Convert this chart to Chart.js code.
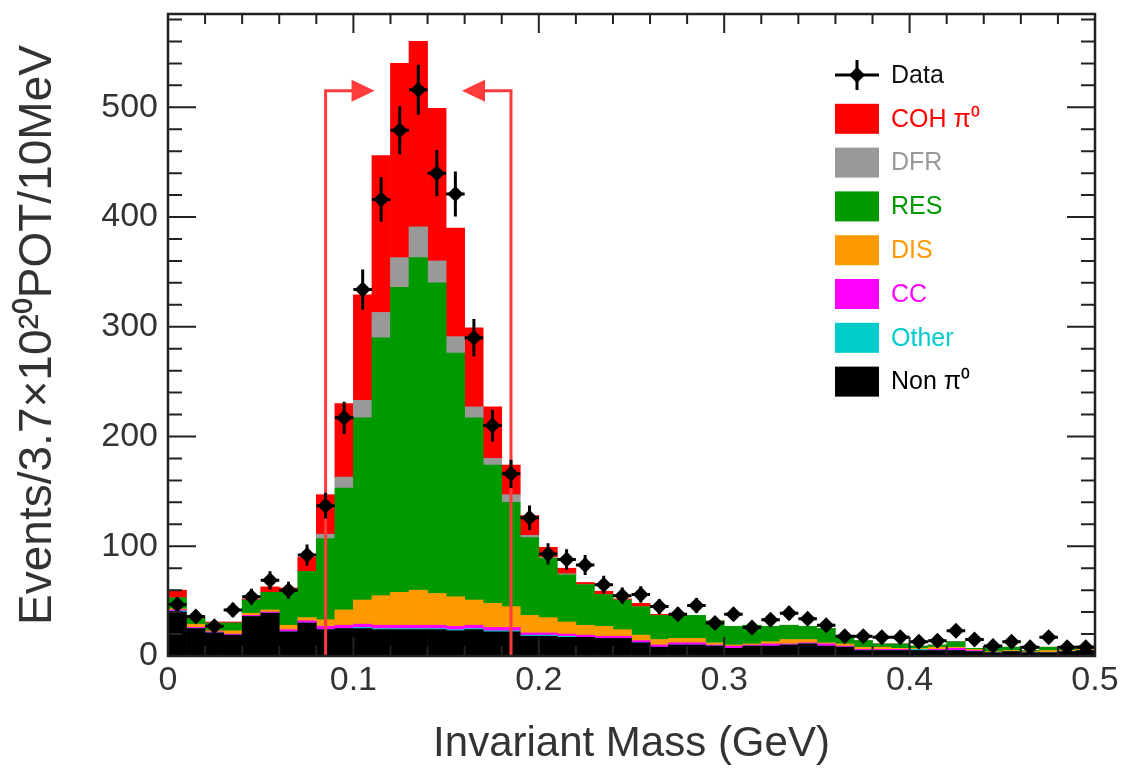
<!DOCTYPE html>
<html>
<head>
<meta charset="utf-8">
<script src="https://cdn.jsdelivr.net/npm/chart.js@4.4.1/dist/chart.umd.min.js"></script>
<style>
  html, body { margin: 0; padding: 0; background: #fff; }
</style>
</head>
<body>
<canvas id="chart" width="1127" height="772"></canvas>
<script>
// 10 MeV bins from 0 to 0.5 GeV
const binWidth = 0.01;
const binCenters = Array.from({ length: 50 }, (_, i) => +(0.005 + i * binWidth).toFixed(3));

const dataCounts = [47, 36, 27, 42, 54, 69, 60, 92, 137, 217,
  334, 416, 479, 516, 440, 421, 290, 210, 166, 126,
  93, 88, 83, 65, 55, 56, 45, 38, 46, 30,
  38, 26, 33, 39, 34, 28, 18, 18, 17, 17,
  13, 14, 23, 15, 9, 13, 8, 17, 8, 8];

const nonPi0 = [40, 25, 21, 19, 36, 39, 22, 30, 24, 25,
  25, 24, 24, 24, 24, 23, 24, 22, 22, 18,
  18, 17, 17, 16, 16, 12, 8, 10, 10, 9,
  7, 9, 9, 10, 11, 9, 8, 5, 5, 5,
  5, 5, 5, 4, 3, 4, 3, 3, 4, 5];

const other = [1, 0, 0, 0, 0, 0, 0, 0, 0, 0,
  1, 1, 1, 1, 1, 1, 1, 1, 1, 1,
  1, 1, 0, 0, 0, 0, 0, 0, 0, 0,
  0, 0, 0, 0, 0, 0, 0, 0, 0, 0,
  1, 0, 0, 0, 0, 0, 0, 0, 0, 0];

const cc = [1, 1, 1, 1, 1, 1, 2, 2, 3, 3,
  3, 3, 3, 3, 3, 3, 3, 3, 3, 2,
  2, 2, 2, 2, 2, 2, 2, 2, 2, 1,
  2, 1, 2, 1, 1, 2, 1, 1, 1, 1,
  0, 1, 2, 1, 0, 0, 0, 0, 0, 0];

const dis = [1, 3, 1, 3, 2, 2, 4, 3, 6, 14,
  22, 27, 30, 32, 29, 27, 23, 22, 19, 16,
  14, 11, 9, 9, 6, 5, 5, 4, 4, 2,
  1, 1, 2, 4, 3, 1, 2, 2, 2, 1,
  1, 2, 1, 1, 1, 1, 1, 2, 1, 1];

const res = [10, 5, 7, 7, 12, 16, 30, 42, 74, 111,
  166, 235, 278, 303, 283, 222, 166, 126, 95, 71,
  54, 43, 37, 29, 27, 26, 22, 20, 21, 20,
  17, 17, 14, 13, 12, 13, 6, 6, 3, 4,
  2, 2, 5, 1, 4, 3, 1, 3, 1, 3];

const dfr = [0, 0, 0, 0, 0, 0, 0, 0, 4, 10,
  16, 23, 27, 28, 20, 15, 10, 6, 7, 2,
  1, 1, 0, 0, 0, 0, 0, 0, 0, 0,
  0, 0, 0, 0, 0, 0, 0, 0, 0, 0,
  0, 0, 0, 0, 0, 0, 0, 0, 0, 0];

const coh = [7, 1, 1, 1, 1, 5, 4, 13, 36, 67,
  96, 143, 177, 169, 139, 99, 72, 47, 27, 18,
  9, 5, 2, 3, 1, 3, 1, 1, 0, 0,
  0, 0, 0, 0, 0, 0, 0, 0, 0, 0,
  0, 0, 0, 0, 0, 0, 0, 0, 0, 0];

// selection cut window and arrow height
const cutLow = 0.085;
const cutHigh = 0.185;
const cutArrowLevel = 515;

const FONT = "'Liberation Sans', Arial, Helvetica, sans-serif";
const cutColor = '#ff3b3b';

function toXY(values) {
  return values.map((v, i) => ({ x: binCenters[i], y: v }));
}

function stackSet(label, values, color) {
  return {
    type: 'bar',
    label: label,
    data: toXY(values),
    backgroundColor: color,
    borderWidth: 0,
    barPercentage: 1,
    categoryPercentage: 1,
    grouped: false,
    order: 1
  };
}

const datasets = [
  stackSet('Non \u03c0\u2070', nonPi0, '#000000'),
  stackSet('Other', other, '#00cccc'),
  stackSet('CC', cc, '#ff00ff'),
  stackSet('DIS', dis, '#ff9900'),
  stackSet('RES', res, '#009900'),
  stackSet('DFR', dfr, '#999999'),
  stackSet('COH \u03c0\u2070', coh, '#ff0000'),
  {
    type: 'scatter',
    label: 'Data',
    data: toXY(dataCounts),
    stack: 'data',
    backgroundColor: '#000',
    borderColor: '#000',
    pointStyle: 'rectRot',
    pointRadius: 8,
    borderWidth: 0,
    order: 0
  }
];
const DATA_INDEX = datasets.length - 1;
const legendOrder = [7, 6, 5, 4, 3, 2, 1, 0];

function drawCuts(chart) {
  const { ctx, scales: { x, y } } = chart;
  const yTop = y.getPixelForValue(cutArrowLevel);
  const y0 = y.getPixelForValue(0);
  ctx.save();
  ctx.strokeStyle = cutColor;
  ctx.fillStyle = cutColor;
  ctx.lineWidth = 3;
  [[cutLow, 1], [cutHigh, -1]].forEach(([val, dir]) => {
    const px = x.getPixelForValue(val);
    ctx.beginPath();
    ctx.moveTo(px, y0);
    ctx.lineTo(px, yTop);
    ctx.lineTo(px + dir * 28, yTop);
    ctx.stroke();
    ctx.beginPath();
    ctx.moveTo(px + dir * 26, yTop - 11);
    ctx.lineTo(px + dir * 49, yTop);
    ctx.lineTo(px + dir * 26, yTop + 11);
    ctx.closePath();
    ctx.fill();
  });
  ctx.restore();
}

function drawErrors(chart) {
  const { ctx, scales: { x, y } } = chart;
  ctx.save();
  ctx.strokeStyle = '#000';
  ctx.lineWidth = 3;
  dataCounts.forEach((v, i) => {
    const err = Math.sqrt(v);
    const px = x.getPixelForValue(binCenters[i]);
    const py = y.getPixelForValue(v);
    ctx.beginPath();
    ctx.moveTo(px, y.getPixelForValue(v + err));
    ctx.lineTo(px, y.getPixelForValue(v - err));
    ctx.moveTo(x.getPixelForValue(binCenters[i] - binWidth / 2), py);
    ctx.lineTo(x.getPixelForValue(binCenters[i] + binWidth / 2), py);
    ctx.stroke();
  });
  ctx.restore();
}

function drawFrame(chart) {
  const { ctx, chartArea: a, scales: { x, y } } = chart;
  ctx.save();
  ctx.strokeStyle = '#222';
  ctx.lineWidth = 2;
  ctx.beginPath();
  for (let k = 1; k < 25; k++) {
    const px = x.getPixelForValue(k * 0.02);
    const len = k % 5 === 0 ? 19 : 10;
    ctx.moveTo(px, a.bottom); ctx.lineTo(px, a.bottom - len);
    ctx.moveTo(px, a.top); ctx.lineTo(px, a.top + len);
  }
  for (let k = 1; k * 20 < y.max; k++) {
    const py = y.getPixelForValue(k * 20);
    const len = k % 5 === 0 ? 28 : 14;
    ctx.moveTo(a.left, py); ctx.lineTo(a.left + len, py);
    ctx.moveTo(a.right, py); ctx.lineTo(a.right - len, py);
  }
  ctx.stroke();
  ctx.lineWidth = 2.5;
  ctx.strokeRect(a.left, a.top, a.right - a.left, a.bottom - a.top);
  ctx.restore();
}

function drawLegend(chart) {
  const { ctx } = chart;
  const boxL = 835, boxW = 44, boxH = 30, top = 75, step = 43.8;
  ctx.save();
  ctx.font = '25px ' + FONT;
  ctx.textBaseline = 'middle';
  legendOrder.forEach((idx, row) => {
    const ds = chart.data.datasets[idx];
    const cy = top + row * step;
    if (idx === DATA_INDEX) {
      ctx.strokeStyle = '#000';
      ctx.lineWidth = 3;
      ctx.beginPath();
      ctx.moveTo(boxL, cy); ctx.lineTo(boxL + boxW, cy);
      ctx.moveTo(boxL + boxW / 2, cy - 15); ctx.lineTo(boxL + boxW / 2, cy + 15);
      ctx.stroke();
      ctx.fillStyle = '#000';
      ctx.beginPath();
      ctx.moveTo(boxL + boxW / 2, cy - 8); ctx.lineTo(boxL + boxW / 2 + 8, cy);
      ctx.lineTo(boxL + boxW / 2, cy + 8); ctx.lineTo(boxL + boxW / 2 - 8, cy);
      ctx.closePath(); ctx.fill();
      ctx.fillStyle = '#111';
    } else {
      ctx.fillStyle = ds.backgroundColor;
      ctx.fillRect(boxL, cy - boxH / 2, boxW, boxH);
    }
    ctx.fillText(ds.label, boxL + boxW + 12, cy + 1);
  });
  ctx.restore();
}

const rootStyle = {
  id: 'rootStyle',
  beforeDatasetDraw(chart, args) {
    if (args.index === DATA_INDEX) {
      drawCuts(chart);
      drawErrors(chart);
    }
  },
  afterDraw(chart) {
    drawFrame(chart);
    drawLegend(chart);
  }
};

new Chart(document.getElementById('chart').getContext('2d'), {
  type: 'bar',
  data: { datasets: datasets },
  options: {
    responsive: false,
    animation: false,
    devicePixelRatio: 1,
    layout: { padding: { top: 14, right: 32, bottom: 0, left: 0 } },
    plugins: { legend: { display: false }, tooltip: { enabled: false } },
    scales: {
      x: {
        type: 'linear',
        min: 0,
        max: 0.5,
        offset: false,
        grid: { display: false, drawTicks: false },
        border: { display: false },
        ticks: {
          stepSize: 0.1,
          padding: 4,
          maxRotation: 0,
          color: '#333',
          font: { family: FONT, size: 34 },
          callback: v => String(Math.round(v * 10) / 10)
        },
        title: {
          display: true,
          text: 'Invariant Mass (GeV)',
          color: '#333',
          font: { family: FONT, size: 42 },
          padding: { top: 0, bottom: 2 }
        },
        afterFit: s => { s.height = 116; s.paddingLeft = 0; s.paddingRight = 0; }
      },
      y: {
        stacked: true,
        min: 0,
        max: 585,
        grid: { display: false, drawTicks: false },
        border: { display: false },
        ticks: {
          stepSize: 100,
          padding: 10,
          color: '#333',
          font: { family: FONT, size: 34 }
        },
        afterBuildTicks: s => { s.ticks = s.ticks.filter(t => t.value % 100 === 0); },
        title: {
          display: true,
          text: 'Events/3.7\u00d710\u00b2\u2070POT/10MeV',
          color: '#333',
          font: { family: FONT, size: 46 },
          padding: { top: 11, bottom: 0 }
        },
        afterFit: s => { s.width = 168; s.paddingTop = 0; s.paddingBottom = 0; }
      }
    }
  },
  plugins: [rootStyle]
});
</script>
</body>
</html>
